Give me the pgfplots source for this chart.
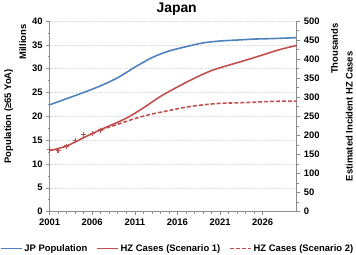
\documentclass[border=0pt]{standalone}
\usepackage{fontspec}
\setmainfont{Liberation Sans}
\usepackage{pgfplots}
\pgfplotsset{compat=1.18}
\definecolor{jpblue}{HTML}{4F81BD}
\definecolor{hzred}{HTML}{C0504D}
\definecolor{axgray}{HTML}{8C8C8C}

\begin{document}
\begin{tikzpicture}
\pgfplotsset{
  every axis/.append style={
    scale only axis, width=249pt, height=192pt,
    xmin=2001, xmax=2030,
    tick align=outside,
    major tick length=3.5pt, minor tick length=2pt,
    tick style={axgray, line width=0.6pt},
    axis line style={axgray, line width=0.8pt},
    tick label style={font=\bfseries\fontsize{9.5}{11}\selectfont, text=black},
    /pgf/number format/assume math mode=true,
    /pgf/number format/1000 sep={},
  },
}
% left axis: population (millions)
\begin{axis}[
  axis x line*=bottom, axis y line*=left,
  ymin=0, ymax=40, ytick={0,5,...,40}, minor y tick num=1,
  xtick={2001,2006,2011,2016,2021,2026}, minor x tick num=4,
  ymajorgrids, major grid style={gray!25, densely dotted},
  clip=false,
]
\addplot[jpblue, line width=1.6pt, smooth, tension=0.5] coordinates {
  (2001,22.4) (2003,23.7) (2005,25.0) (2007,26.4) (2009,28.1) (2011,30.3)
  (2013,32.3) (2015,33.7) (2017,34.6) (2019,35.4) (2021,35.8) (2023,36.0)
  (2025,36.2) (2027,36.3) (2030,36.5)};
\node[rotate=90, font=\bfseries\fontsize{9.5}{11}\selectfont] at (axis description cs:-0.165,0.5) {Population (≥65 YoA)};
\node[rotate=90, font=\bfseries\fontsize{9.5}{11}\selectfont] at (axis description cs:-0.108,0.89) {Millions};
\node[font=\bfseries\fontsize{14}{16}\selectfont] at (axis description cs:0.514,1.06) {Japan};
\end{axis}
% right axis: HZ cases (thousands)
\begin{axis}[
  axis x line=none, axis y line*=right,
  ymin=0, ymax=500, ytick={0,50,...,500}, minor y tick num=1,
  clip=false,
  legend style={draw=none, fill=none, at={(0.518,-0.193)}, anchor=center,
    font=\bfseries\fontsize{9.5}{11}\selectfont, legend columns=3,
    /tikz/every even column/.append style={column sep=7pt},
    inner sep=0pt, cells={anchor=west}},
  legend image code/.code={\draw[#1] (0pt,0pt) -- (21pt,0pt);},
]
\addlegendimage{jpblue, line width=1.6pt}
\addlegendentry{JP Population}
\addplot[hzred, line width=1.6pt, smooth, tension=0.5] coordinates {
  (2001,160) (2003,172) (2005,194) (2007,215) (2010,245) (2012,272)
  (2014,302) (2016,327) (2018,350) (2020,370) (2022,384) (2024,397)
  (2026,411) (2028,425) (2030,436)};
\addlegendentry{HZ Cases (Scenario 1)}
\addplot[hzred, line width=1.6pt, smooth, tension=0.5, dash pattern=on 4pt off 2pt] coordinates {
  (2007,215) (2009,229) (2011,244) (2013,256) (2015,265) (2017,274)
  (2019,280) (2021,284) (2024,286) (2027,289) (2030,290)};
\addlegendentry{HZ Cases (Scenario 2)}
\addplot[hzred, only marks, mark=+, mark size=2.5pt, line width=1.2pt, forget plot] coordinates {
  (2001,163) (2002,161) (2003,172) (2004,186) (2005,202) (2006,204) (2007,214)};
\node[rotate=90, font=\bfseries\fontsize{9.5}{11}\selectfont] at (axis description cs:1.152,0.854) {Thousands};
\node[rotate=90, font=\bfseries\fontsize{9.5}{11}\selectfont] at (axis description cs:1.212,0.5) {Estimated Incident HZ Cases};
\end{axis}
\end{tikzpicture}
\end{document}
